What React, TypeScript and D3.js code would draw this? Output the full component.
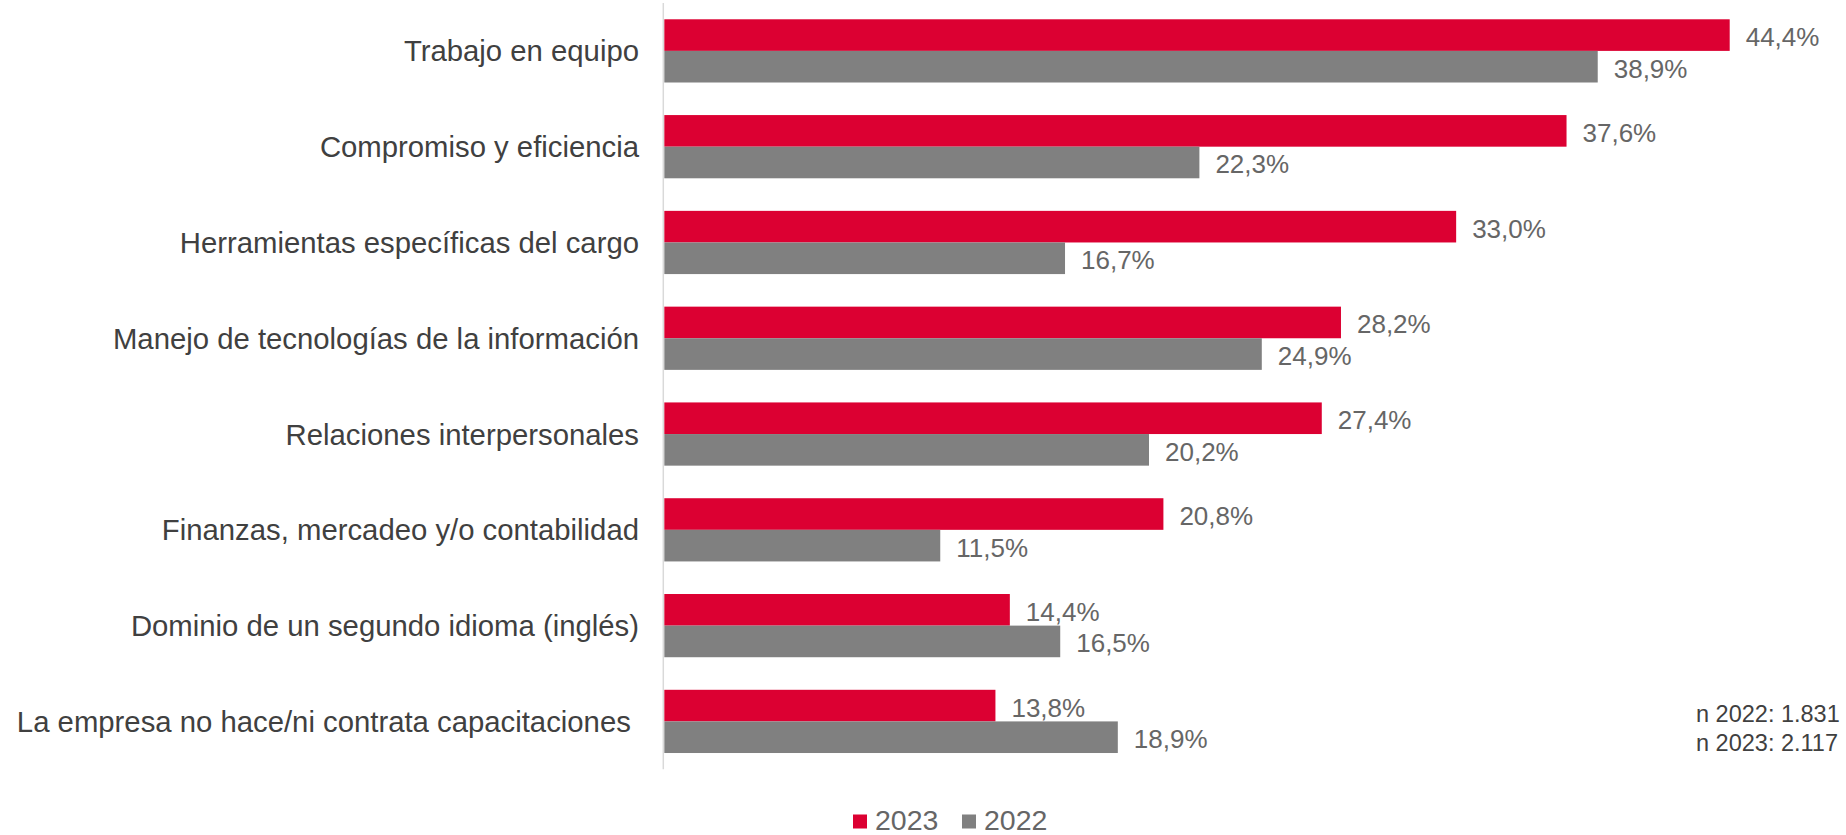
import React from "react";
import * as d3 from "d3";

const categories = [
  "Trabajo en equipo",
  "Compromiso y eficiencia",
  "Herramientas específicas del cargo",
  "Manejo de tecnologías de la información",
  "Relaciones interpersonales",
  "Finanzas, mercadeo y/o contabilidad",
  "Dominio de un segundo idioma (inglés)",
  "La empresa no hace/ni contrata capacitaciones ",
];
const values2023 = [44.4, 37.6, 33.0, 28.2, 27.4, 20.8, 14.4, 13.8];
const values2022 = [38.9, 22.3, 16.7, 24.9, 20.2, 11.5, 16.5, 18.9];
const seriesNames = ["2023", "2022"];
const seriesColors = ["#DC0032", "#808080"];
const notes = ["n 2022: 1.831", "n 2023: 2.117"];

const W = 1846;
const H = 835;
const fmt = (v: number) => v.toFixed(1).replace(".", ",") + "%";

export default function App() {
  const y = d3.scaleBand<string>().domain(categories).range([3, 769.3]).paddingInner(0.34).paddingOuter(0.17);
  const sub = d3.scaleBand<string>().domain(seriesNames).range([0, y.bandwidth()]);
  const x = d3.scaleLinear().domain([0, 44.4]).range([664.3, 1729.7]);
  const series = [values2023, values2022];
  const font = "Arial, 'Liberation Sans', Helvetica, sans-serif";

  return (
    <div style={{ position: "absolute", left: 0, top: 0 }}>
      <svg width={W} height={H} style={{ display: "block", fontFamily: font }}>
        <rect width={W} height={H} fill="#ffffff" />
        {categories.map((c, i) => (
          <g key={c}>
            {series.map((vals, s) => {
              const by = (y(c) as number) + (sub(seriesNames[s]) as number);
              const bh = sub.bandwidth();
              return (
                <g key={s}>
                  <rect x={x(0)} y={by} width={x(vals[i]) - x(0)} height={bh} fill={seriesColors[s]} />
                  <text x={x(vals[i]) + 16} y={by + bh / 2 + 11} fontSize={26} fill="#666666">
                    {fmt(vals[i])}
                  </text>
                </g>
              );
            })}
            <text
              x={639}
              y={(y(c) as number) + y.bandwidth() / 2 + 10.5}
              fontSize={29.3}
              fill="#404040"
              textAnchor="end"
              style={{ whiteSpace: "pre" }}
            >
              {c}
            </text>
          </g>
        ))}
        <line x1={663.3} x2={663.3} y1={3} y2={769.3} stroke="#d9d9d9" strokeWidth={1.5} />
        {notes.map((n, i) => (
          <text key={n} x={1696} y={722 + i * 28.7} fontSize={23.5} fill="#404040">
            {n}
          </text>
        ))}
        {seriesNames.map((s, i) => {
          const lx = [853, 962][i];
          return (
            <g key={s}>
              <rect x={lx} y={814.5} width={14} height={14} fill={seriesColors[i]} />
              <text x={lx + 22} y={829.5} fontSize={28.5} fill="#666666">
                {s}
              </text>
            </g>
          );
        })}
      </svg>
    </div>
  );
}
